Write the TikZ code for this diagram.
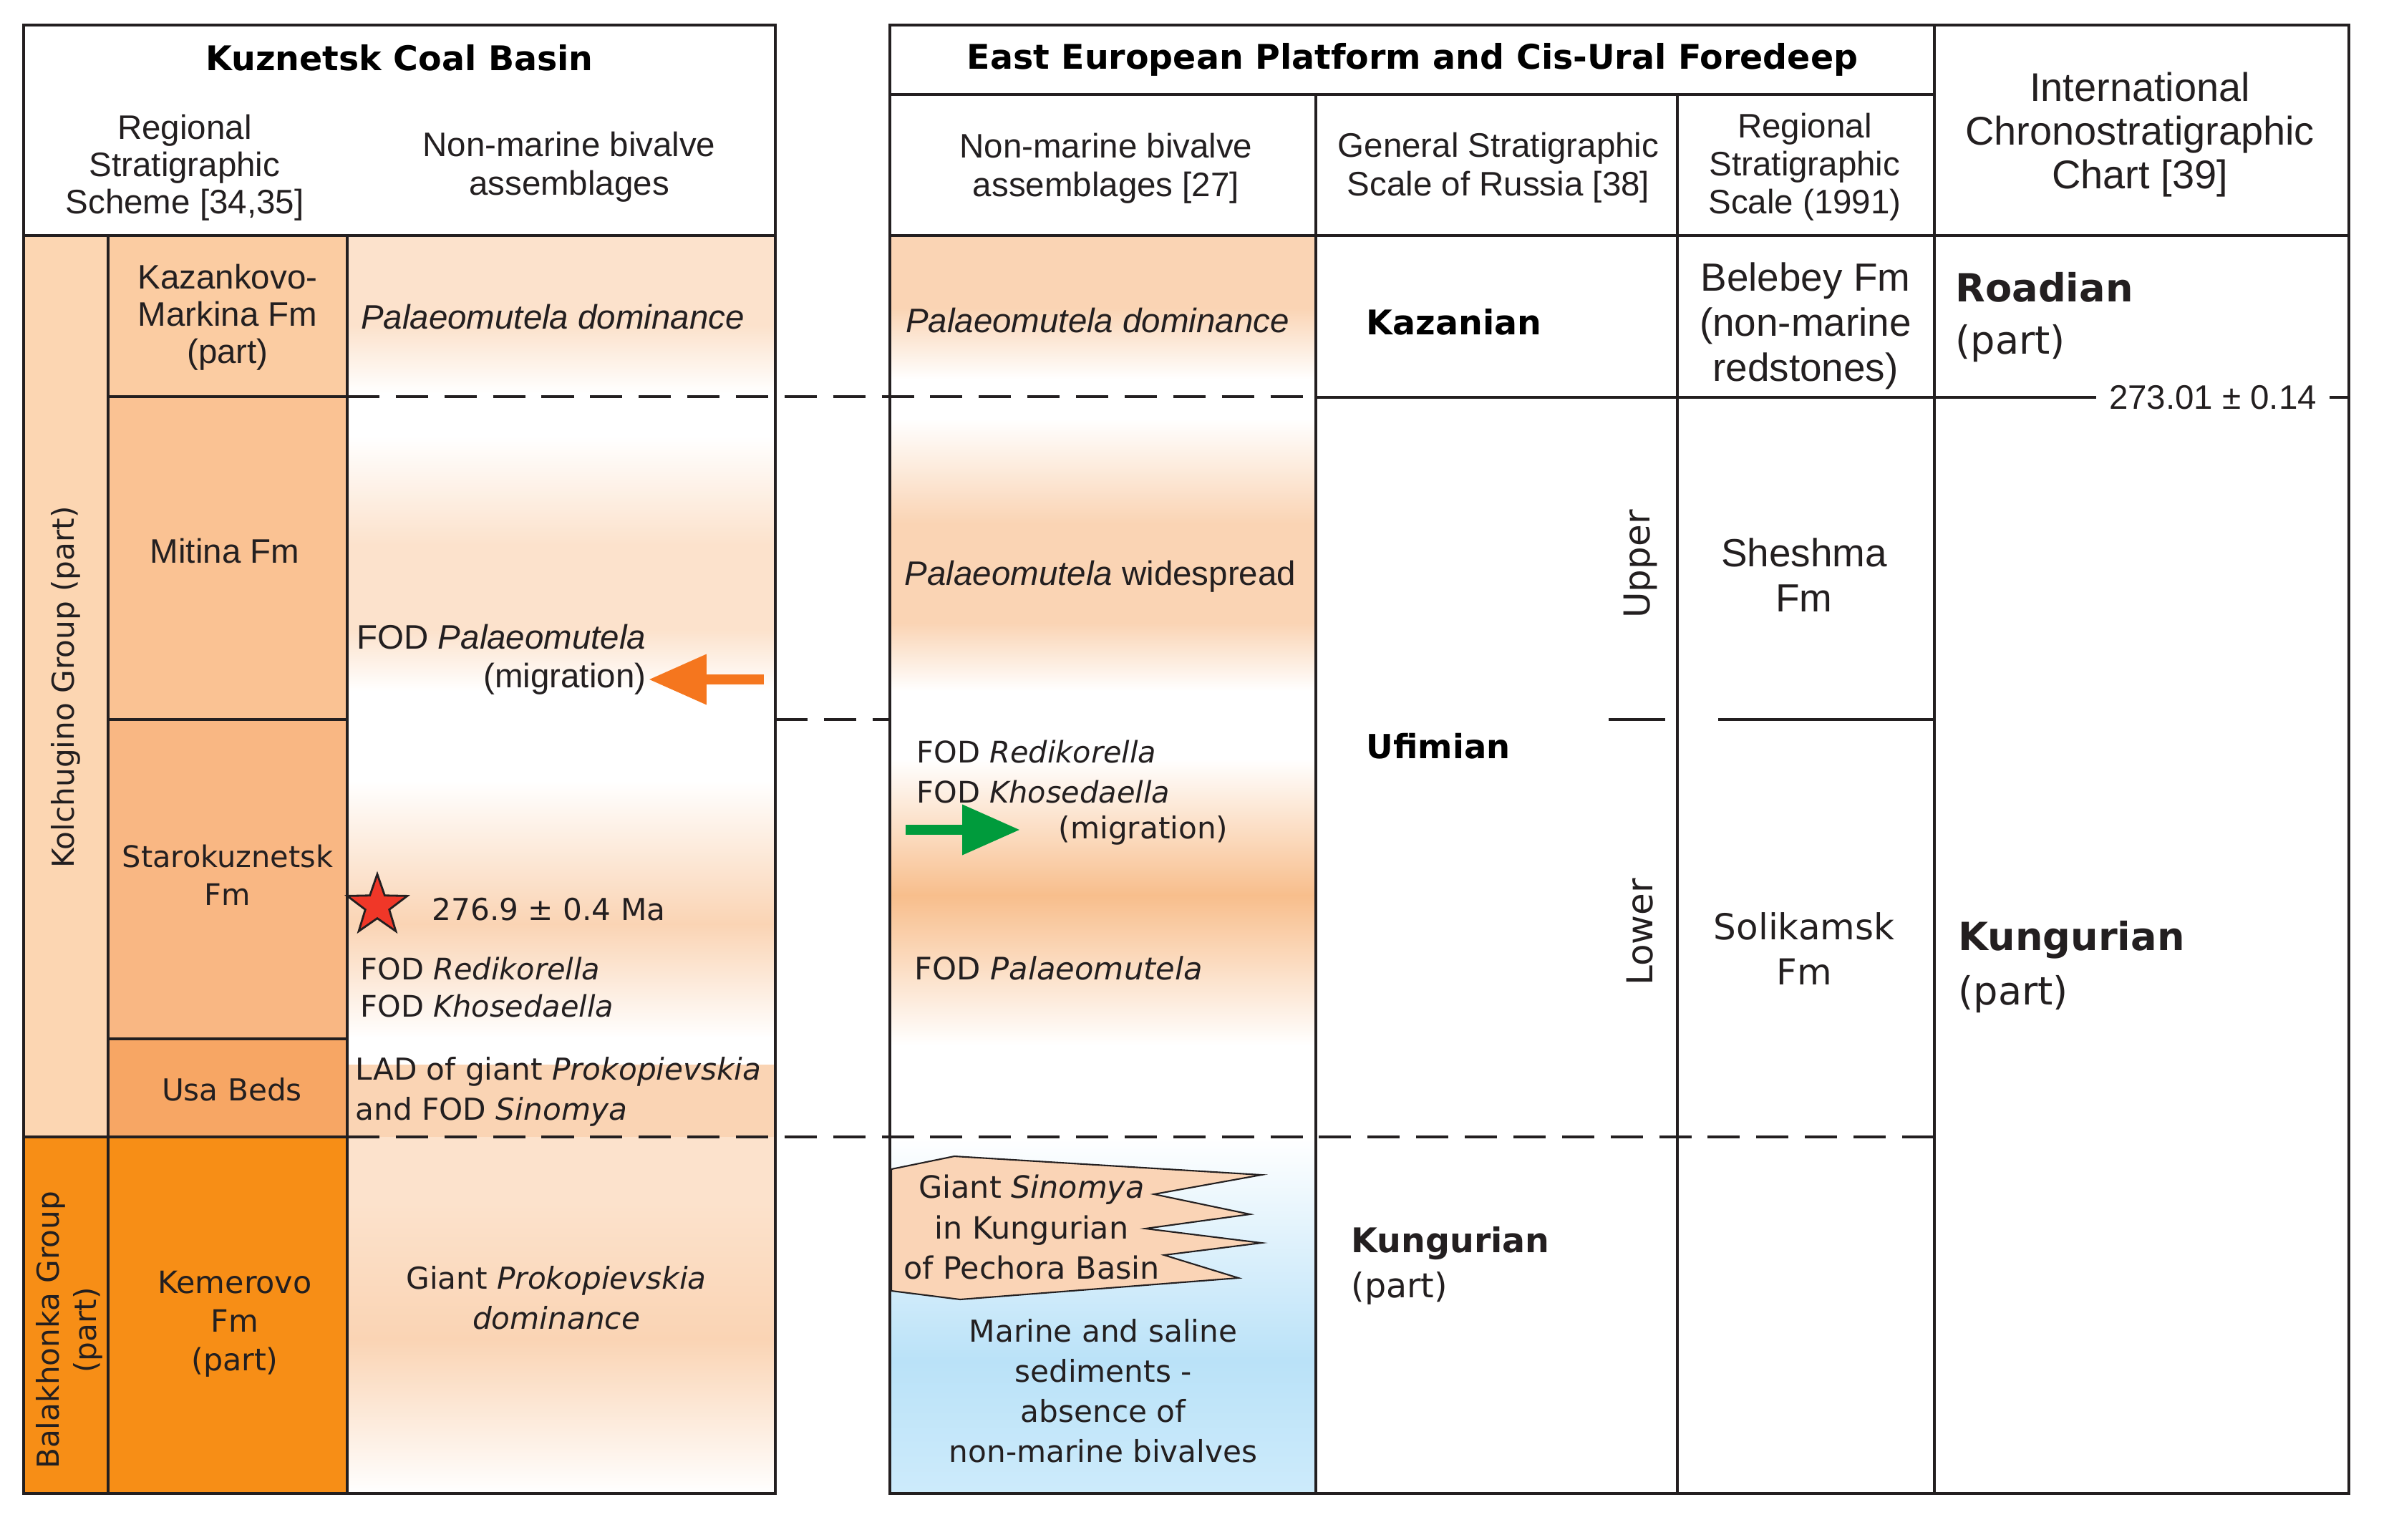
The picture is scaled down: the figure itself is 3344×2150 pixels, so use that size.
\documentclass[tikz,border=0pt]{standalone}
\usepackage{fontspec}
\setmainfont{Liberation Sans}
\newfontfamily\dvs{DejaVu Sans}
\usetikzlibrary{arrows.meta,shapes.geometric}
\definecolor{ink}{RGB}{35,31,32}
\definecolor{kol}{RGB}{252,214,178}
\definecolor{kaz}{RGB}{251,204,162}
\definecolor{mit}{RGB}{250,194,147}
\definecolor{sta}{RGB}{249,183,131}
\definecolor{usa}{RGB}{247,166,100}
\definecolor{kem}{RGB}{247,142,22}
\definecolor{pl}{RGB}{252,226,204}
\definecolor{pm}{RGB}{250,212,180}
\definecolor{pk}{RGB}{248,190,140}
\definecolor{blu}{RGB}{186,226,248}
\definecolor{blub}{RGB}{205,235,251}
\definecolor{sino}{RGB}{250,212,182}
\definecolor{oar}{RGB}{245,118,30}
\definecolor{gar}{RGB}{0,155,60}
\definecolor{starred}{RGB}{240,55,40}
\newcommand{\vband}[6]{\shade[top color=#5,bottom color=#6] (#1,#3) rectangle (#2,#4);}
\begin{document}
\begin{tikzpicture}[x=0.01cm,y=-0.01cm,
  ar/.style={inner sep=0pt, align=center, text=ink, font=\fontsize{13.5pt}{15.5pt}\selectfont},
  dv/.style={inner sep=0pt, align=center, text=ink, font=\dvs\fontsize{12pt}{15.9pt}\selectfont},
  hb/.style={inner sep=0pt, text=black, font=\dvs\bfseries\fontsize{13.5pt}{16pt}\selectfont},
  tl/.style={line width=1.1pt, draw=ink},
  ol/.style={line width=1.3pt, draw=ink},
  dl/.style={line width=1.3pt, draw=ink, dash pattern=on 12.8pt off 6.5pt},
  mig/.style={line width=4pt, -{Triangle[length=23pt,width=19pt]}}
]
\useasboundingbox (0,0) rectangle (3344,2150);
\fill[white] (0,0) rectangle (3344,2150);

% ---------- left table fills
\fill[kol] (33,329) rectangle (151,1588);
\fill[kem] (33,1588) rectangle (151,2086);
\fill[kaz] (151,329) rectangle (485,554);
\fill[mit] (151,554) rectangle (485,1005);
\fill[sta] (151,1005) rectangle (485,1451);
\fill[usa] (151,1451) rectangle (485,1588);
\fill[kem] (151,1588) rectangle (485,2086);

% left bivalve column bands
\vband{485}{1083}{329}{456}{pl}{pl}
\vband{485}{1083}{455}{549}{pl}{white}
\vband{485}{1083}{609}{761}{white}{pl}
\vband{485}{1083}{760}{881}{pl}{pl}
\vband{485}{1083}{880}{965}{pl}{white}
\vband{485}{1083}{1090}{1291}{white}{pm}
\vband{485}{1083}{1290}{1450}{pm}{white}
\vband{485}{1083}{1487}{1589}{pm}{pm}
\vband{485}{1083}{1588}{1681}{pl}{pl}
\vband{485}{1083}{1680}{1871}{pl}{pm}
\vband{485}{1083}{1870}{2086}{pm}{white}

% right bivalve column bands
\vband{1243}{1838}{329}{431}{pm}{pm}
\vband{1243}{1838}{430}{530}{pm}{white}
\vband{1243}{1838}{585}{731}{white}{pm}
\vband{1243}{1838}{730}{871}{pm}{pm}
\vband{1243}{1838}{870}{965}{pm}{white}
\vband{1243}{1838}{1060}{1251}{white}{pk}
\vband{1243}{1838}{1250}{1460}{pk}{white}
\vband{1243}{1838}{1588}{1901}{white}{blu}
\vband{1243}{1838}{1900}{2086}{blu}{blub}

% Sinomya tongue
\filldraw[fill=sino, draw=ink, line width=0.6pt] (1245,1633) -- (1333,1615) -- (1762,1641) -- (1612,1668) -- (1746,1696) -- (1600,1716) -- (1762,1736) -- (1626,1753) -- (1730,1785) -- (1341,1815) -- (1245,1803) -- cycle;

% ---------- grid lines left
\draw[tl] (33,329) -- (1083,329);
\draw[tl] (151,329) -- (151,2086);
\draw[tl] (485,329) -- (485,2086);
\draw[tl] (151,554) -- (485,554);
\draw[tl] (151,1005) -- (485,1005);
\draw[tl] (151,1451) -- (485,1451);
\draw[tl] (33,1588) -- (485,1588);
\draw[ol] (33,35) rectangle (1083,2086);

% ---------- grid lines right
\draw[tl] (1243,132) -- (2702,132);
\draw[tl] (1243,329) -- (3281,329);
\draw[tl] (1838,132) -- (1838,2086);
\draw[tl] (2343,132) -- (2343,2086);
\draw[tl] (2702,35) -- (2702,2086);
\draw[tl] (2247,1005) -- (2326,1005);
\draw[tl] (2400,1005) -- (2702,1005);
\draw[ol] (1243,35) rectangle (3281,2086);

% ---------- dashed correlation lines
\draw[dl] (485,554) -- (1838,554);
\draw[dl] (1083,1005) -- (1243,1005);
\draw[dl] (485,1588) -- (2702,1588);

% age label on the Kazanian base line
\node[ar, inner xsep=5pt] (age) at (3091,555) {273.01 ± 0.14};
\draw[tl] (1838,555) -- (age.west);
\draw[tl] (age.east) -- (3281,555);

% ---------- headers
\node[hb] (kcb) at (558,81) {Kuznetsk Coal Basin};
\node[ar, font=\fontsize{13.5pt}{14.8pt}\selectfont] (lh1) at (258,234) {Regional\\Stratigraphic\\Scheme [34,35]};
\node[ar] (lh2) at (795,233) {Non-marine bivalve\\assemblages};
\node[hb] (eep) at (1973,83) {East European Platform and Cis-Ural Foredeep};
\node[ar] (rh1) at (1545,235) {Non-marine bivalve\\assemblages [27]};
\node[ar] (rh2) at (2093,234) {General Stratigraphic\\Scale of Russia [38]};
\node[ar, font=\fontsize{13.5pt}{15pt}\selectfont] (rh3) at (2521,233) {Regional\\Stratigraphic\\Scale (1991)};
\node[ar, font=\fontsize{15.9pt}{17.4pt}\selectfont] (rh4) at (2989,188) {International\\Chronostratigraphic\\Chart [39]};

% ---------- left table texts
\node[dv, rotate=90] (kolg) at (92,960) {Kolchugino Group (part)};
\node[dv, rotate=90, font=\dvs\fontsize{12pt}{14.8pt}\selectfont] (balg) at (97,1858) {Balakhonka Group\\(part)};
\node[ar, font=\fontsize{13.5pt}{14.8pt}\selectfont] (kazm) at (318,443) {Kazankovo-\\Markina Fm\\(part)};
\node[ar] (mitf) at (314,770) {Mitina Fm};
\node[dv, font=\dvs\fontsize{11.8pt}{15pt}\selectfont] (stak) at (318,1222) {Starokuznetsk\\Fm};
\node[dv] (usab) at (324,1522) {Usa Beds};
\node[dv, font=\dvs\fontsize{12.2pt}{15.4pt}\selectfont] (kemf) at (328,1849) {Kemerovo\\Fm\\(part)};

\node[ar] (pdl) at (772,443) {\itshape Palaeomutela dominance};
\node[ar, align=right, anchor=east] (fodpl) at (903,921) {FOD \textit{Palaeomutela}\\(migration)};
\node[star, star points=5, star point ratio=2.5, minimum size=0.88cm, inner sep=0pt, fill=starred, draw=ink, line width=0.8pt] (star) at (527,1265) {};
\node[dv, anchor=west] (date) at (603,1270) {276.9 ± 0.4 Ma};
\node[dv, align=left, anchor=west, font=\dvs\fontsize{11.8pt}{14.8pt}\selectfont] (fodrk) at (503,1379) {FOD \textit{Redikorella}\\FOD \textit{Khosedaella}};
\node[dv, align=left, anchor=west] (lad) at (496,1525) {LAD of giant \textit{Prokopievskia}\\and FOD \textit{Sinomya}};
\node[dv] (gpd) at (777,1813) {Giant \textit{Prokopievskia}\\\textit{dominance}};

% ---------- right bivalve column texts
\node[ar] (pdr) at (1533,448) {\itshape Palaeomutela dominance};
\node[ar] (pwr) at (1537,805) {\textit{Palaeomutela} widespread};
\node[dv, align=left, anchor=west, font=\dvs\fontsize{11.8pt}{15.9pt}\selectfont] (fodrk2) at (1280,1078) {FOD \textit{Redikorella}\\FOD \textit{Khosedaella}};
\node[dv, anchor=west] (migr) at (1478,1160) {(migration)};
\node[dv, anchor=west, font=\dvs\fontsize{12.3pt}{15.9pt}\selectfont] (fodp2) at (1277,1352) {FOD \textit{Palaeomutela}};
\node[dv, font=\dvs\fontsize{12.2pt}{16.1pt}\selectfont] (sinot) at (1441,1714) {Giant \textit{Sinomya}\\in Kungurian\\of Pechora Basin};
\node[dv] (mart) at (1541,1943) {Marine and saline\\sediments -\\absence of\\non-marine bivalves};

% ---------- general scale column
\node[hb, anchor=west] (kazs) at (1908,450) {Kazanian};
\node[hb, anchor=west, font=\dvs\bfseries\fontsize{13.2pt}{16pt}\selectfont] (ufis) at (1908,1042) {Ufimian};
\node[dv, align=left, anchor=west, font=\dvs\fontsize{13.5pt}{18pt}\selectfont] (kung1) at (1887,1768) {\textbf{Kungurian}\\(part)};
\node[dv, rotate=90, font=\dvs\fontsize{14.2pt}{16pt}\selectfont] (upp) at (2291,788) {Upper};
\node[dv, rotate=90, font=\dvs\fontsize{14.2pt}{16pt}\selectfont] (low) at (2291,1302) {Lower};

% ---------- regional scale column
\node[ar, font=\fontsize{15.6pt}{17.9pt}\selectfont] (beleb) at (2522,455) {Belebey Fm\\(non-marine\\redstones)};
\node[ar, font=\fontsize{15.6pt}{17.9pt}\selectfont] (shesh) at (2520,803) {Sheshma\\Fm};
\node[dv, font=\dvs\fontsize{14.2pt}{18pt}\selectfont] (solik) at (2520,1325) {Solikamsk\\Fm};

% ---------- ICS column
\node[dv, align=left, anchor=west, font=\dvs\fontsize{15.4pt}{20.8pt}\selectfont] (road) at (2731,443) {\textbf{Roadian}\\(part)};
\node[dv, align=left, anchor=west, font=\dvs\fontsize{15.4pt}{21.6pt}\selectfont] (kung2) at (2735,1351) {\textbf{Kungurian}\\(part)};

% ---------- migration arrows
\coordinate (oaT) at (1067,949);
\coordinate (oaH) at (906,949);
\draw[mig, draw=oar, fill=oar] (oaT) -- (oaH);
\coordinate (gaT) at (1265,1159);
\coordinate (gaH) at (1425,1159);
\draw[mig, draw=gar, fill=gar] (gaT) -- (gaH);
\end{tikzpicture}
\end{document}
